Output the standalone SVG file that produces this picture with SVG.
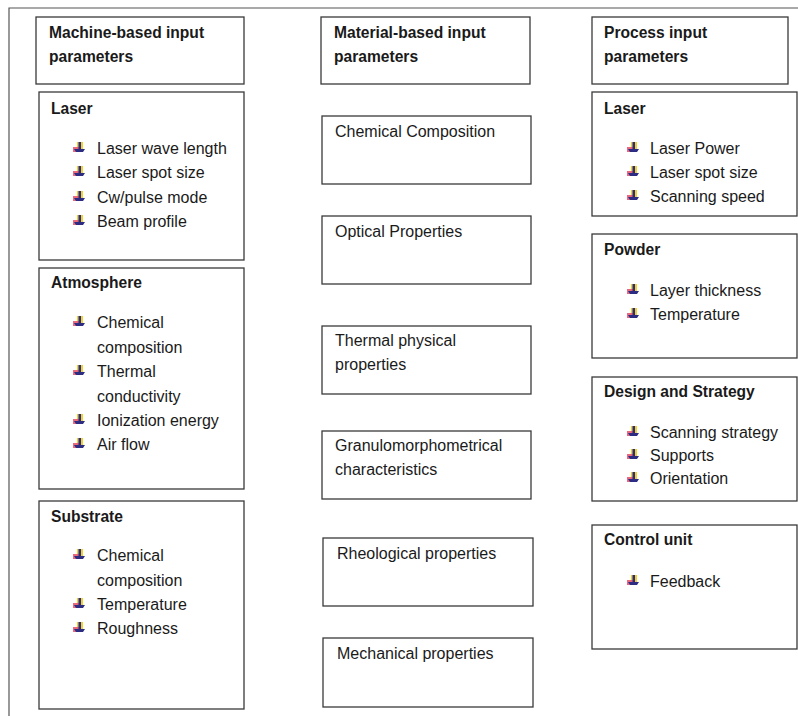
<svg xmlns="http://www.w3.org/2000/svg" width="798" height="716" viewBox="0 0 798 716">
<style>
.box{fill:#fff;stroke:#3a3a3a;stroke-width:1.3}
.frame{stroke:#555;stroke-width:1.2;fill:none}
.h{font-family:"Liberation Sans",Arial,sans-serif;font-weight:bold;font-size:15.6px;fill:#1a1a1a}
.t{font-family:"Liberation Sans",Arial,sans-serif;font-size:16px;fill:#1a1a1a}
</style>
<defs>
<g id="bul">
<rect x="4" y="0" width="6" height="7" fill="#f2d22a"/>
<rect x="0" y="5" width="6" height="5" fill="#e5506a" opacity="0.85"/>
<rect x="5.5" y="0" width="2.5" height="9" fill="#2c2c82"/>
<path d="M1,7 H12 L10,10 H3 Z" fill="#2c2c82"/>
</g>
</defs>
<path class="frame" d="M9,716 V8 H798"/>

<g id="machine-header"><rect class="box" x="36" y="17" width="208" height="67"/>
<text class="h" x="49" y="38">Machine-based input</text><text class="h" x="49" y="62">parameters</text></g>

<g id="machine-laser"><rect class="box" x="39" y="92" width="205" height="168"/>
<text class="h" x="51" y="114">Laser</text>
<use href="#bul" x="73" y="142"/><text class="t" x="97" y="154">Laser wave length</text>
<use href="#bul" x="73" y="166"/><text class="t" x="97" y="178">Laser spot size</text>
<use href="#bul" x="73" y="191"/><text class="t" x="97" y="203">Cw/pulse mode</text>
<use href="#bul" x="73" y="215"/><text class="t" x="97" y="227">Beam profile</text></g>

<g id="atmosphere"><rect class="box" x="39" y="268" width="205" height="221"/>
<text class="h" x="51" y="288">Atmosphere</text>
<use href="#bul" x="73" y="316"/><text class="t" x="97" y="328">Chemical</text><text class="t" x="97" y="353">composition</text>
<use href="#bul" x="73" y="365"/><text class="t" x="97" y="377">Thermal</text><text class="t" x="97" y="402">conductivity</text>
<use href="#bul" x="73" y="414"/><text class="t" x="97" y="426">Ionization energy</text>
<use href="#bul" x="73" y="438"/><text class="t" x="97" y="450">Air flow</text></g>

<g id="substrate"><rect class="box" x="39" y="501" width="205" height="208"/>
<text class="h" x="51" y="522">Substrate</text>
<use href="#bul" x="73" y="549"/><text class="t" x="97" y="561">Chemical</text><text class="t" x="97" y="586">composition</text>
<use href="#bul" x="73" y="598"/><text class="t" x="97" y="610">Temperature</text>
<use href="#bul" x="73" y="622"/><text class="t" x="97" y="634">Roughness</text></g>

<g id="material-header"><rect class="box" x="321" y="17" width="209" height="67"/>
<text class="h" x="334" y="38">Material-based input</text><text class="h" x="334" y="62">parameters</text></g>

<g id="chem-comp"><rect class="box" x="322" y="116" width="209" height="68"/>
<text class="t" x="335" y="137">Chemical Composition</text></g>

<g id="optical"><rect class="box" x="322" y="216" width="209" height="68"/>
<text class="t" x="335" y="237">Optical Properties</text></g>

<g id="thermal"><rect class="box" x="322" y="326" width="209" height="68"/>
<text class="t" x="335" y="346">Thermal physical</text><text class="t" x="335" y="370">properties</text></g>

<g id="granulo"><rect class="box" x="322" y="431" width="209" height="68"/>
<text class="t" x="335" y="451">Granulomorphometrical</text><text class="t" x="335" y="475">characteristics</text></g>

<g id="rheological"><rect class="box" x="323" y="538" width="210" height="68"/>
<text class="t" x="337" y="559">Rheological properties</text></g>

<g id="mechanical"><rect class="box" x="323" y="638" width="210" height="69"/>
<text class="t" x="337" y="659">Mechanical properties</text></g>

<g id="process-header"><rect class="box" x="592" y="17" width="196" height="67"/>
<text class="h" x="604" y="38">Process input</text><text class="h" x="604" y="62">parameters</text></g>

<g id="process-laser"><rect class="box" x="592" y="92" width="205" height="124"/>
<text class="h" x="604" y="114">Laser</text>
<use href="#bul" x="627" y="142"/><text class="t" x="650" y="154">Laser Power</text>
<use href="#bul" x="627" y="166"/><text class="t" x="650" y="178">Laser spot size</text>
<use href="#bul" x="627" y="190"/><text class="t" x="650" y="202">Scanning speed</text></g>

<g id="powder"><rect class="box" x="592" y="234" width="205" height="124"/>
<text class="h" x="604" y="255">Powder</text>
<use href="#bul" x="627" y="284"/><text class="t" x="650" y="296">Layer thickness</text>
<use href="#bul" x="627" y="308"/><text class="t" x="650" y="320">Temperature</text></g>

<g id="design"><rect class="box" x="592" y="377" width="205" height="124"/>
<text class="h" x="604" y="397">Design and Strategy</text>
<use href="#bul" x="627" y="426"/><text class="t" x="650" y="438">Scanning strategy</text>
<use href="#bul" x="627" y="449"/><text class="t" x="650" y="461">Supports</text>
<use href="#bul" x="627" y="472"/><text class="t" x="650" y="484">Orientation</text></g>

<g id="control"><rect class="box" x="592" y="525" width="205" height="124"/>
<text class="h" x="604" y="545">Control unit</text>
<use href="#bul" x="627" y="575"/><text class="t" x="650" y="587">Feedback</text></g>

<g id="connectors"></g>
</svg>
